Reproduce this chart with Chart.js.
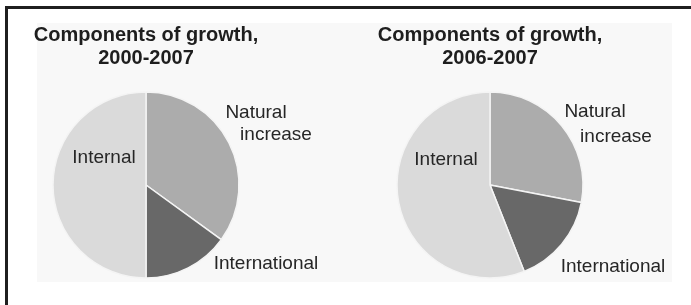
<!DOCTYPE html>
<html>
<head>
<meta charset="utf-8">
<script src="https://cdn.jsdelivr.net/npm/chart.js@4.4.1/dist/chart.umd.min.js"></script>
<style>
  html, body { margin: 0; padding: 0; background: #fff; }
  body { width: 691px; height: 305px; position: relative; overflow: hidden; }
  #frame { position: absolute; left: 5px; top: 6px; width: 700px; height: 320px;
           border-left: 3px solid #1f1f1f; border-top: 3px solid #1f1f1f; }
  #panel { position: absolute; left: 37px; top: 23px; width: 635px; height: 259px; background: #f8f8f8; }
  .wrap { position: absolute; top: 0; height: 305px; }
</style>
</head>
<body>
<div id="frame"></div>
<div id="panel"></div>
<div class="wrap" style="left:0;width:345px"><canvas id="pie1"></canvas></div>
<div class="wrap" style="left:345px;width:346px"><canvas id="pie2"></canvas></div>
<script>
// Data (share of growth, %)
const categories = ["Natural increase", "International", "Internal"];
const shares2000 = [35, 15, 50];
const shares2006 = [28, 16, 56];
const titles2000 = ["Components of growth,", "2000-2007"];
const titles2006 = ["Components of growth,", "2006-2007"];

const sliceColors = ["#acacac", "#686868", "#dadada"];
const FONT = "'Liberation Sans', Arial, sans-serif";

// label text lines and their offsets from the pie centre
const labels2000 = [
  { text: "Natural", dx: 110, dy: -72 },
  { text: "increase", dx: 130, dy: -50 },
  { text: "Internal", dx: -42, dy: -27 },
  { text: "International", dx: 120, dy: 79 },
];
const labels2006 = [
  { text: "Natural", dx: 105, dy: -73 },
  { text: "increase", dx: 126, dy: -48 },
  { text: "Internal", dx: -44, dy: -25 },
  { text: "International", dx: 123, dy: 82 },
];

const sliceLabels = {
  id: "sliceLabels",
  afterDraw(chart, _args, opts) {
    const arc = chart.getDatasetMeta(0).data[0];
    if (!arc) return;
    const ctx = chart.ctx;
    ctx.save();
    ctx.font = "19px " + FONT;
    ctx.fillStyle = "#262626";
    ctx.textAlign = "center";
    ctx.textBaseline = "middle";
    opts.items.forEach((l) => ctx.fillText(l.text, arc.x + l.dx, arc.y + l.dy));
    ctx.restore();
  },
};

function makePie(id, values, title, items, padRight) {
  return new Chart(document.getElementById(id), {
    type: "pie",
    data: {
      labels: categories,
      datasets: [{
        data: values,
        backgroundColor: sliceColors,
        borderColor: "#f4f4f4",
        borderWidth: 1.5,
        hoverOffset: 0,
      }],
    },
    options: {
      responsive: true,
      maintainAspectRatio: false,
      animation: false,
      radius: 93,
      layout: { padding: { left: 0, right: padRight, top: 0, bottom: 14.6 } },
      plugins: {
        legend: { display: false },
        tooltip: { enabled: false },
        title: {
          display: true,
          text: title,
          color: "#1e1e1e",
          font: { family: FONT, size: 20, weight: "bold", lineHeight: 1.15 },
          padding: { top: 23.5, bottom: 10.1 },
        },
        sliceLabels: { items: items },
      },
    },
    plugins: [sliceLabels],
  });
}

makePie("pie1", shares2000, titles2000, labels2000, 53);
makePie("pie2", shares2006, titles2006, labels2006, 56);
</script>
</body>
</html>
